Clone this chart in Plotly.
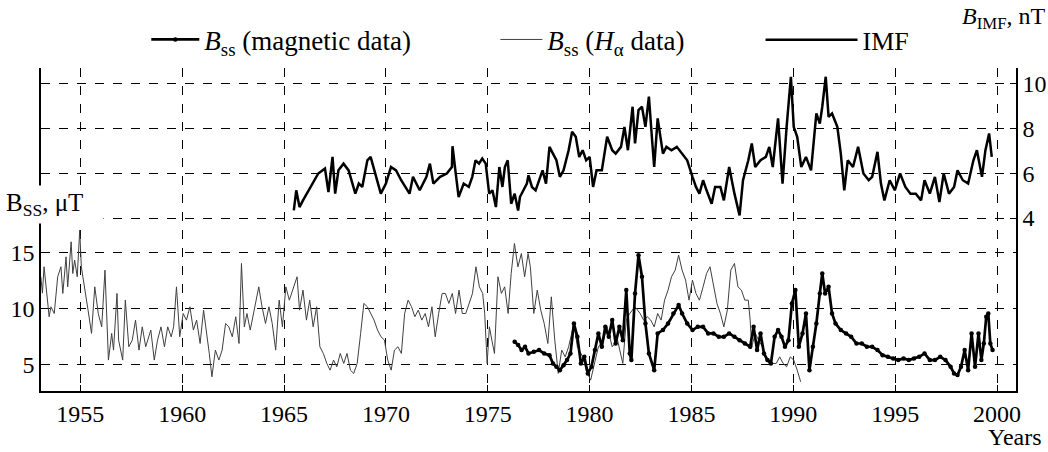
import plotly.graph_objects as go

# ---------------- data ----------------
imf_years = [1965.48, 1965.60, 1965.76, 1965.93, 1966.68, 1967.01, 1967.18, 1967.38, 1967.51, 1967.67,
             1967.92, 1968.17, 1968.50, 1968.67, 1968.84, 1969.09, 1969.25, 1969.42, 1969.75, 1970.00,
             1970.25, 1970.50, 1970.75, 1971.16, 1971.33, 1971.66, 1971.99, 1972.16, 1972.33, 1972.66,
             1972.99, 1973.24, 1973.27, 1973.41, 1973.57, 1973.82, 1974.07, 1974.24, 1974.40, 1974.57,
             1974.73, 1974.90, 1975.07, 1975.23, 1975.40, 1975.57,
             1975.72, 1975.84, 1975.98, 1976.15, 1976.32, 1976.49, 1976.58, 1976.75, 1976.92, 1977.00,
             1977.17, 1977.35, 1977.52, 1977.69, 1977.86, 1978.03, 1978.20, 1978.37, 1978.54, 1978.72,
             1978.97, 1979.14, 1979.32, 1979.49, 1979.66, 1979.83, 1980.00, 1980.17, 1980.34, 1980.60,
             1980.86, 1981.11, 1981.28, 1981.54, 1981.71, 1981.88, 1982.11, 1982.23, 1982.40, 1982.57,
             1982.74, 1982.91, 1983.08, 1983.17, 1983.34, 1983.60, 1983.77, 1984.02, 1984.28, 1984.54,
             1984.79, 1985.05, 1985.22, 1985.39, 1985.57, 1985.74, 1985.99, 1986.16, 1986.42, 1986.59,
             1986.85, 1987.11, 1987.36, 1987.53, 1987.79, 1987.96, 1988.13, 1988.39, 1988.65, 1988.82,
             1988.99, 1989.25, 1989.47, 1989.67, 1989.88, 1990.02, 1990.19, 1990.39, 1990.62, 1990.87,
             1991.13, 1991.30, 1991.42, 1991.59, 1991.73, 1991.90, 1992.16, 1992.33, 1992.50, 1992.67,
             1992.93, 1993.18, 1993.44, 1993.70, 1993.87, 1994.13, 1994.30, 1994.47, 1994.73, 1994.98,
             1995.24, 1995.50, 1995.75, 1996.01, 1996.27, 1996.44, 1996.70, 1996.95, 1997.17, 1997.38,
             1997.64, 1997.89, 1998.06, 1998.32, 1998.58, 1998.84, 1999.01, 1999.26, 1999.43, 1999.61,
             1999.74]
imf_values = [4.34, 5.24, 4.49, 4.79, 5.99, 6.21, 5.16, 6.73, 5.09, 6.13,
              6.43, 6.13, 5.09, 5.54, 5.39, 6.58, 6.73, 6.13, 5.09, 5.54,
              6.28, 6.13, 5.69, 5.09, 5.84, 5.24, 5.84, 6.43, 5.54, 5.84,
              5.99, 6.28, 7.21, 6.13, 4.94, 5.54, 5.39, 5.84, 6.58, 6.43,
              6.66, 6.43, 5.09, 5.24, 4.49, 6.28,
              5.39, 6.28, 6.58, 4.64, 5.09, 4.34, 4.94, 5.24, 5.54, 5.91,
              5.39, 5.24, 5.69, 6.13, 5.54, 7.18, 6.88, 6.58, 5.84, 6.13,
              7.03, 7.85, 7.63, 6.73, 7.03, 6.58, 6.73, 5.39, 6.13, 6.13,
              7.63, 7.03, 6.88, 7.18, 8.07, 7.03, 8.97, 7.33, 8.82, 8.97,
              8.07, 9.42, 7.33, 6.28, 8.45, 6.88, 7.18, 7.03, 7.18, 6.88,
              6.58, 5.84, 5.39, 5.09, 5.69, 5.24, 4.64, 5.39, 5.39, 4.79,
              6.28, 5.09, 4.12, 5.69, 6.58, 7.33, 6.28, 6.58, 6.73, 7.18,
              6.28, 8.45, 5.54, 8.07, 10.31, 8.07, 7.63, 6.28, 6.73, 6.13,
              8.67, 8.22, 8.97, 10.31, 8.52, 8.67, 8.07, 6.88, 5.24, 6.58,
              6.28, 7.18, 5.99, 5.69, 5.84, 6.96, 5.54, 4.79, 5.69, 5.24,
              5.99, 5.39, 5.09, 5.09, 4.79, 5.69, 5.09, 5.84, 4.72, 5.99,
              5.09, 5.39, 6.13, 5.69, 5.54, 6.58, 7.03, 5.84, 7.03, 7.78,
              6.73]

ha_years = [1953.06, 1953.14, 1953.22, 1953.31, 1953.39, 1953.47, 1953.56, 1953.72, 1953.89, 1954.05,
            1954.14, 1954.22, 1954.30, 1954.38, 1954.55, 1954.63, 1954.72, 1954.85, 1954.97, 1955.05,
            1955.13, 1955.22, 1955.38, 1955.55, 1955.71, 1955.88, 1956.05, 1956.21, 1956.38, 1956.54,
            1956.63, 1956.80, 1956.88, 1957.08, 1957.21, 1957.38, 1957.55, 1957.71, 1957.88, 1958.04,
            1958.21, 1958.46, 1958.63, 1958.79, 1958.96, 1959.13, 1959.29, 1959.46, 1959.58, 1959.72,
            1959.88, 1960.05, 1960.21, 1960.38, 1960.55, 1960.71, 1960.88, 1961.05, 1961.21, 1961.33,
            1961.46, 1961.63, 1961.80, 1961.96, 1962.13, 1962.29, 1962.46, 1962.63, 1962.79, 1962.91,
            1963.05, 1963.18, 1963.34, 1963.51, 1963.76, 1963.92, 1964.09, 1964.26, 1964.42, 1964.59,
            1964.76, 1964.92, 1965.09, 1965.26, 1965.42, 1965.64, 1965.76, 1965.93, 1966.10, 1966.26,
            1966.43, 1966.60, 1966.76, 1966.93, 1967.10, 1967.26, 1967.43, 1967.59, 1967.76, 1967.93,
            1968.09, 1968.26, 1968.42, 1968.59, 1968.76, 1968.92, 1969.09, 1969.26, 1969.42, 1969.59,
            1969.76, 1969.93, 1970.09, 1970.26, 1970.42, 1970.59, 1970.76, 1970.92, 1971.09, 1971.26,
            1971.42, 1971.59, 1971.76, 1971.93, 1972.09, 1972.26, 1972.42, 1972.59, 1972.76, 1972.92,
            1973.09, 1973.26, 1973.42, 1973.59, 1973.75, 1973.92, 1974.09, 1974.25, 1974.42, 1974.59,
            1974.75, 1974.85, 1974.97, 1975.08, 1975.20, 1975.33, 1975.50, 1975.67, 1975.83, 1976.00,
            1976.15, 1976.31, 1976.48, 1976.65, 1976.81, 1976.98,
            1977.09, 1977.26, 1977.43, 1977.60, 1977.77, 1977.95, 1978.12, 1978.29, 1978.46, 1978.63,
            1978.80, 1978.97, 1979.23, 1979.40, 1979.66, 1979.83, 1980.05, 1980.26, 1980.43, 1980.68,
            1980.86, 1981.11, 1981.37, 1981.63, 1981.80, 1981.97, 1982.23, 1982.48, 1982.65, 1982.83,
            1983.00, 1983.17, 1983.34, 1983.51, 1983.68, 1983.85, 1984.02, 1984.20, 1984.37, 1984.54,
            1984.71, 1984.88, 1985.05, 1985.22, 1985.39, 1985.57, 1985.74, 1985.91, 1986.08, 1986.25,
            1986.42, 1986.59, 1986.76, 1986.93, 1987.11, 1987.28, 1987.45, 1987.62, 1987.79, 1987.88,
            1987.96, 1988.13, 1988.30, 1988.48, 1988.65, 1988.82, 1988.99, 1989.16, 1989.33, 1989.50,
            1989.67, 1989.85, 1990.02, 1990.19, 1990.36]
ha_values = [12.86, 11.40, 13.75, 11.96, 10.18, 9.29, 10.18, 9.58, 12.86, 13.75,
             11.37, 13.15, 14.64, 11.96, 15.98, 13.15, 14.35, 12.86, 17.02, 13.75,
             12.86, 11.96, 9.88, 7.80, 11.96, 9.58, 8.39, 13.45, 5.42, 7.80,
             6.31, 11.37, 7.20, 5.42, 10.77, 6.61, 7.20, 8.99, 6.31, 8.39,
             6.61, 8.10, 5.42, 7.20, 8.39, 6.61, 8.39, 7.50, 8.39, 11.96,
             7.50, 9.58, 8.99, 10.18, 8.10, 8.99, 6.90, 9.88, 7.80, 6.01,
             3.93, 6.31, 5.42, 6.31, 8.69, 8.39, 7.50, 9.29, 6.90, 14.05,
             8.39, 9.58, 8.10, 9.58, 11.96, 10.18, 8.69, 10.18, 8.69, 6.31,
             10.77, 8.39, 11.96, 10.77, 11.67, 12.86, 9.88, 11.67, 8.99, 10.77,
             8.39, 10.18, 6.61, 6.01, 5.12, 4.52, 5.42, 4.82, 6.01, 5.12,
             6.01, 4.52, 4.23, 5.12, 7.80, 10.48, 10.18, 9.58, 8.99, 8.10,
             7.50, 7.20, 5.42, 4.52, 6.31, 6.61, 6.01, 9.58, 10.77, 10.18,
             9.29, 9.88, 8.99, 9.58, 8.39, 10.18, 7.50, 9.58, 11.37, 11.37,
             10.48, 11.37, 9.58, 11.67, 9.58, 9.58, 10.48, 11.37, 13.75, 11.96,
             11.37, 9.58, 5.12, 8.39, 7.20, 6.01, 12.86, 11.37, 11.96, 9.58,
             13.15, 15.83, 13.75, 14.94, 12.86, 14.94,
             13.75, 9.58, 11.67, 9.88, 8.69, 6.90, 11.07, 7.20, 4.23, 6.31,
             5.71, 6.61, 8.69, 6.61, 5.71, 4.52, 3.63, 5.42, 6.61, 7.20,
             8.39, 6.61, 7.20, 5.12, 8.99, 9.58, 10.18, 9.58, 8.99, 9.29,
             8.99, 8.39, 9.58, 8.99, 10.77, 11.67, 12.86, 13.45, 14.79, 13.45,
             12.56, 10.77, 12.56, 11.37, 10.77, 11.96, 13.15, 13.75, 11.96, 10.48,
             9.58, 8.39, 9.88, 13.45, 14.05, 11.96, 11.67, 10.77, 10.77, 8.99,
             6.61, 7.80, 7.20, 6.61, 5.71, 5.42, 5.12, 5.12, 5.71, 5.12,
             4.82, 5.71, 5.42, 4.52, 3.48]

mag_years = [1976.32, 1976.49, 1976.66, 1976.83, 1977.00, 1977.26, 1977.52, 1977.77, 1978.03, 1978.20,
             1978.37, 1978.54, 1978.72, 1978.89, 1979.06, 1979.23, 1979.40, 1979.57, 1979.74, 1979.91,
             1980.09, 1980.26, 1980.43, 1980.60, 1980.77, 1980.94, 1981.11, 1981.28, 1981.46, 1981.63,
             1981.80, 1981.97, 1982.05, 1982.23, 1982.40, 1982.57, 1982.74, 1982.91, 1983.17, 1983.34,
             1983.60, 1983.85, 1984.11, 1984.37, 1984.54, 1984.79, 1985.05, 1985.31, 1985.57, 1985.82,
             1986.08, 1986.34, 1986.59, 1986.85, 1987.11, 1987.36, 1987.62, 1987.88, 1988.05, 1988.22,
             1988.39, 1988.56, 1988.73, 1988.90, 1989.08, 1989.25, 1989.42, 1989.59, 1989.76, 1989.93,
             1990.10, 1990.27, 1990.45, 1990.62, 1990.79, 1990.96, 1991.13, 1991.30, 1991.42, 1991.56,
             1991.73, 1991.90, 1992.07, 1992.33, 1992.59, 1992.84, 1993.10, 1993.36, 1993.61, 1993.87,
             1994.13, 1994.38, 1994.64, 1994.90, 1995.15, 1995.41, 1995.67, 1995.92, 1996.18, 1996.44,
             1996.70, 1996.95, 1997.21, 1997.47, 1997.72, 1997.89, 1998.06, 1998.23, 1998.41, 1998.58,
             1998.75, 1998.92, 1999.09, 1999.23, 1999.35, 1999.47, 1999.57, 1999.67, 1999.78]
mag_values = [7.05, 6.76, 6.31, 6.61, 6.01, 6.16, 6.31, 6.01, 5.86, 5.12,
              4.82, 4.52, 4.97, 5.42, 6.01, 8.69, 7.50, 5.12, 5.71, 4.23,
              4.82, 6.31, 7.80, 6.61, 8.39, 7.50, 8.99, 6.90, 8.39, 7.20,
              11.67, 6.01, 5.42, 11.37, 14.79, 12.86, 8.69, 6.01, 4.52, 7.80,
              8.10, 8.69, 9.58, 10.33, 9.58, 8.69, 8.10, 8.39, 8.39, 7.80,
              7.80, 7.50, 7.50, 7.80, 7.50, 7.20, 6.90, 6.61, 8.39, 6.31,
              7.80, 6.01, 5.42, 5.12, 7.50, 8.10, 7.50, 6.61, 7.20, 10.48,
              11.67, 6.61, 7.80, 9.58, 4.52, 6.61, 8.69, 11.37, 13.15, 11.37,
              11.96, 9.58, 8.69, 8.10, 7.80, 7.50, 6.90, 6.90, 6.61, 6.61,
              6.31, 5.86, 5.71, 5.57, 5.42, 5.57, 5.42, 5.57, 5.71, 6.01,
              5.42, 5.42, 5.71, 5.42, 4.82, 4.23, 4.08, 4.82, 6.31, 4.52,
              7.80, 4.82, 7.80, 5.42, 6.90, 9.29, 9.58, 6.90, 6.31]

year_ticks = [1955, 1960, 1965, 1970, 1975, 1980, 1985, 1990, 1995, 2000]
left_ticks = [5, 10, 15]
right_ticks = [4, 6, 8, 10]

FONT = "Liberation Serif"

fig = go.Figure()
fig.add_trace(go.Scatter(x=ha_years, y=ha_values, mode="lines", yaxis="y",
                         line=dict(color="#404040", width=1),
                         name="<i>B</i><sub>ss</sub> (<i>H</i><sub>α</sub> data)", legend="legend2"))
fig.add_trace(go.Scatter(x=mag_years, y=mag_values, mode="lines+markers", yaxis="y",
                         line=dict(color="black", width=2.7), marker=dict(color="black", size=4.5),
                         name="<i>B</i><sub>ss</sub> (magnetic data)", legend="legend"))
fig.add_trace(go.Scatter(x=imf_years, y=imf_values, mode="lines", yaxis="y2",
                         line=dict(color="black", width=2.5),
                         name="IMF", legend="legend3"))

grid = dict(showgrid=True, gridcolor="black", gridwidth=1, griddash="dash")
fig.update_layout(
    width=1048, height=452,
    margin=dict(l=41, r=32, t=68, b=61, autoexpand=False),
    paper_bgcolor="white", plot_bgcolor="white",
    font=dict(family=FONT, size=24, color="black"),
    xaxis=dict(range=[1953.07, 2000.93], tickvals=year_ticks, ticks="inside", ticklen=6,
               tickcolor="black", showline=True, linecolor="black", linewidth=1.5,
               zeroline=False, automargin=False, **grid),
    yaxis=dict(range=[2.66, 31.5], tickvals=left_ticks, ticks="inside", ticklen=6,
               tickcolor="black", showline=True, linecolor="black", linewidth=1.5,
               zeroline=False, automargin=False, **grid),
    yaxis2=dict(range=[-3.72, 10.70], tickvals=right_ticks, ticks="inside", ticklen=6,
                tickcolor="black", showline=True, linecolor="black", linewidth=1.5,
                overlaying="y", side="right", zeroline=False, automargin=False, **grid),
    legend=dict(x=0.108, y=1.087, xanchor="left", yanchor="middle", orientation="h",
                bgcolor="rgba(0,0,0,0)", itemwidth=48, font=dict(size=27)),
    legend2=dict(x=0.466, y=1.087, xanchor="left", yanchor="middle", orientation="h",
                 bgcolor="rgba(0,0,0,0)", itemwidth=42, font=dict(size=27)),
    legend3=dict(x=0.738, y=1.087, xanchor="left", yanchor="middle", orientation="h",
                 bgcolor="rgba(0,0,0,0)", itemwidth=92, font=dict(size=26)),
    showlegend=True,
    annotations=[
        dict(text="B<sub>SS</sub>, μT", xref="paper", yref="paper", x=-0.040, y=0.576,
             xanchor="left", yanchor="middle", showarrow=False, bgcolor="white",
             font=dict(size=25), borderpad=3, width=94, align="left"),
        dict(text="<i>B</i><sub>IMF</sub>, nT", xref="paper", yref="paper", x=1.033, y=1.155,
             xanchor="right", yanchor="middle", showarrow=False, font=dict(size=24)),
        dict(text="Years", xref="paper", yref="paper", x=1.029, y=-0.142,
             xanchor="right", yanchor="middle", showarrow=False, font=dict(size=24)),
    ],
)

fig.write_html("out.html")
